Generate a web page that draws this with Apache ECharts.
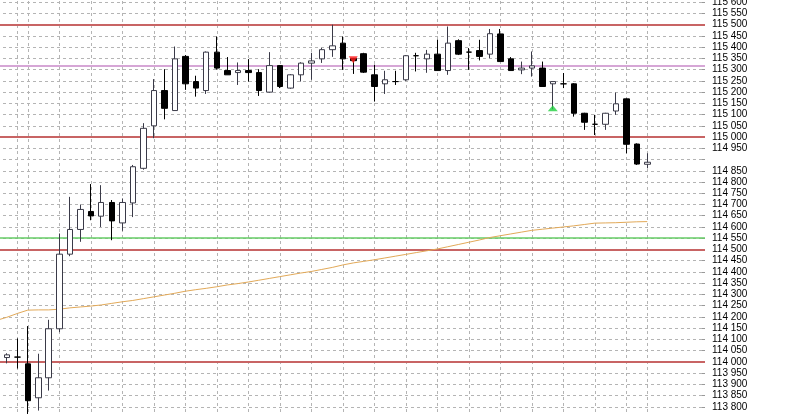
<!DOCTYPE html>
<html><head><meta charset="utf-8">
<script src="https://cdn.jsdelivr.net/npm/echarts@6/dist/echarts.min.js"></script>
<style>
html,body{margin:0;padding:0;background:#fff;overflow:hidden;width:800px;height:414px;position:relative}
#c{position:absolute;left:-9px;top:-9px;width:809px;height:427px}
</style>
</head><body><div id="c"></div>
<script>
// one hidden lead bar (-1), 62 visible bars (0..61), 5 empty trailing slots
const categories = Array.from({length: 68}, (_, k) => 'bar ' + (k - 1));

const opens  = [114019,114021,113991,113840,113929,114147,114479,114589,114669,114648,
                114709,114618,114707,114861,115050,115207,115118,115359,115247,115207,
                115378,115296,115287,115296,115287,115200,115318,115218,115277,115329,
                115348,115389,115418,115350,115371,115277,115237,115247,115255,115362,
                115348,115369,115296,115429,115378,115385,115369,115459,115348,115299,
                115307,115307,115237,115237,115237,115106,115057,115057,115116,115170,
                114969,114879];
const closes = [114031,114021,113827,113929,114147,114479,114589,114678,114649,114709,
                114627,114709,114868,115039,115207,115128,115348,115237,115218,115378,
                115307,115277,115296,115287,115207,115318,115225,115277,115329,115339,
                115389,115406,115348,115340,115289,115225,115255,115247,115362,115362,
                115369,115296,115418,115369,115378,115359,115460,115336,115296,115307,
                115317,115225,115247,115237,115106,115066,115057,115106,115148,114968,
                114880,114888];
const lows   = [113993,113970,113768,113783,113872,114132,114470,114534,114630,114600,
                114541,114583,114644,114855,114995,115079,115118,115210,115180,115192,
                115300,115277,115232,115247,115183,115198,115218,115215,115247,115255,
                115330,115357,115299,115281,115285,115158,115192,115232,115250,115292,
                115286,115296,115277,115365,115299,115341,115351,115336,115296,115280,
                115269,115225,115124,115218,115091,115032,115009,115032,115099,114928,
                114876,114861];
const highs  = [114038,114104,114159,114036,114187,114571,114734,114700,114791,114786,
                114720,114727,114876,115062,115258,115302,115403,115365,115273,115381,
                115448,115356,115332,115347,115302,115378,115320,115280,115333,115375,
                115397,115500,115448,115352,115375,115322,115295,115295,115365,115375,
                115388,115433,115492,115435,115396,115433,115481,115481,115356,115336,
                115381,115336,115247,115285,115240,115108,115099,115108,115198,115172,
                114972,114928];
// moving average, bars -1 .. 61
const maValues = [114184,114198,114215,114230,114231,114231,114234,114240,114244,114248,
                  114253,114260,114267,114273,114281,114289,114297,114305,114314,114321,
                  114327,114334,114342,114348,114355,114363,114371,114379,114387,114395,
                  114402,114411,114420,114431,114440,114447,114454,114462,114470,114478,
                  114486,114494,114502,114512,114522,114532,114542,114553,114561,114569,
                  114577,114585,114590,114595,114600,114605,114611,114617,114618,114619,
                  114621,114623,114624];
const levelsRed = [115500, 115000, 114500, 114000];
const levelsPurple = [115318];
const levelsGreen = [114550];
const gridBars = [1,2,5,8,11,14,17,20,23,26,29,32,35,38,41,44,47,50,53,56,59,61];
const sellArrow = {bar: 33, price: 115344};
const buyArrow = {bar: 52, price: 115128};
const hiddenTickLabels = [114900];

const nm = b => 'bar ' + b;
const candleData = ['-'].concat(opens.map((o, i) => [o, closes[i], lows[i], highs[i]]));
while (candleData.length < categories.length) candleData.push('-');
const maData = maValues.slice();
while (maData.length < categories.length) maData.push('-');
const emptyData = categories.map(() => '-');

const fmt = v => {
  if (v % 50 !== 0 || v > 115600 || v < 113800 || hiddenTickLabels.indexOf(v) >= 0) return '';
  const s = String(v);
  return s.slice(0, s.length - 3) + ' ' + s.slice(-3);
};

const chart = echarts.init(document.getElementById('c'), null, {renderer: 'canvas'});
chart.setOption({
  animation: false,
  backgroundColor: '#ffffff',
  grid: {left: 0, right: 95, top: 0, bottom: 0, containLabel: false},
  xAxis: {type: 'category', data: categories, boundaryGap: true, show: false},
  yAxis: {
    type: 'value', position: 'right', min: 113750, max: 115650, interval: 50,
    axisLine: {show: false},
    axisTick: {show: true, inside: true, length: 3, lineStyle: {color: '#999999'}},
    axisLabel: {margin: 7, fontSize: 10, color: '#000000',
      fontFamily: "'Liberation Sans Narrow', 'Liberation Sans', Arial, sans-serif", formatter: fmt},
    splitLine: {show: true, lineStyle: {color: '#b4b4b4', width: 1, type: [3, 3]}}
  },
  series: [
    {
      type: 'line', data: emptyData, z: 1, silent: true, symbol: 'none',
      markLine: {
        silent: true, symbol: 'none', animation: false, z: 1,
        label: {show: false},
        lineStyle: {color: '#b4b4b4', width: 1, type: [3, 3]},
        data: gridBars.map(b => ({xAxis: nm(b)}))
      }
    },
    {
      type: 'line', data: maData, z: 2, silent: true, symbol: 'none',
      lineStyle: {color: '#e2a958', width: 1},
      markLine: {
        silent: true, symbol: 'none', animation: false, z: 2,
        label: {show: false},
        data: levelsRed.map(v => ({yAxis: v, lineStyle: {color: '#c86464', width: 2, type: 'solid'}}))
          .concat(levelsPurple.map(v => ({yAxis: v, lineStyle: {color: '#d6a6d6', width: 2, type: 'solid'}})))
          .concat(levelsGreen.map(v => ({yAxis: v, lineStyle: {color: '#66cc66', width: 1.5, type: 'solid'}})))
      }
    },
    {
      type: 'candlestick', data: candleData, z: 3, barWidth: 6, silent: true,
      itemStyle: {
        color: '#ffffff', color0: '#000000',
        borderColor: '#3a3a48', borderColor0: '#000000', borderColorDoji: '#000000',
        borderWidth: 1
      }
    },
    {
      type: 'scatter', z: 4, silent: true,
      data: [
        {value: [nm(sellArrow.bar), sellArrow.price], symbol: 'triangle', symbolRotate: 180,
         symbolSize: [9, 7], itemStyle: {color: '#ff1a1a'}},
        {value: [nm(buyArrow.bar), buyArrow.price], symbol: 'triangle',
         symbolSize: [10, 6], itemStyle: {color: '#22d040'}}
      ]
    }
  ]
});
</script></body></html>
